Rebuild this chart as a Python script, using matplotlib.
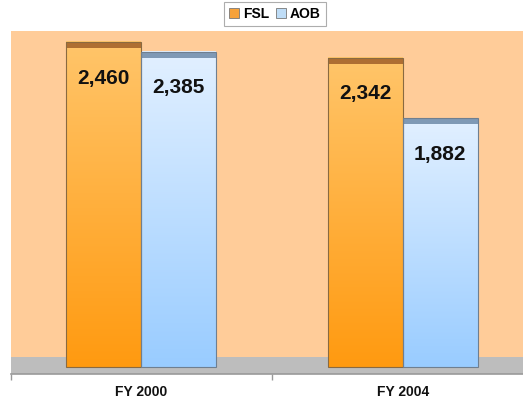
import matplotlib
matplotlib.use('Agg')
import matplotlib.pyplot as plt
import numpy as np
from matplotlib.colors import LinearSegmentedColormap
from matplotlib.patches import Rectangle, Patch

plt.rcParams['font.family'] = ['Liberation Sans', 'DejaVu Sans']

categories = ['FY 2000', 'FY 2004']
series_names = ['FSL', 'AOB']
fsl = [2460, 2342]
aob = [2385, 1882]

W, H = 523, 401
fig = plt.figure(figsize=(W / 100, H / 100), dpi=100)
ax = fig.add_axes([11 / W, (H - 374) / H, (W - 11) / W, (374 - 31) / H])
ax.set_xlim(-0.496, 1.458)
ax.set_ylim(-53, 2543)

ax.set_facecolor('#FFCC99')
ax.axhspan(-53, 76, color='#BDBDBD', zorder=0.5, lw=0)

width = 0.285
styles = {
    'FSL': dict(cmap=LinearSegmentedColormap.from_list('f', ['#FF9A10', '#FFC56A']),
                cap='#AE6E32', edge='#8a6a40', legend='#F7A23A'),
    'AOB': dict(cmap=LinearSegmentedColormap.from_list('a', ['#99CCFF', '#E2F0FF']),
                cap='#7F99B5', edge='#6f7f90', legend='#BFDDF7'),
}
grad = np.linspace(0, 1, 256).reshape(-1, 1)
cap_h = 45

for name, vals, off in [('FSL', fsl, -width / 2), ('AOB', aob, width / 2)]:
    st = styles[name]
    for i, v in enumerate(vals):
        x0 = i + off - width / 2
        x1 = i + off + width / 2
        ax.imshow(grad, cmap=st['cmap'], extent=(x0, x1, 0, v), origin='lower',
                  aspect='auto', zorder=2, interpolation='bilinear')
        ax.add_patch(Rectangle((x0, v - cap_h), width, cap_h, facecolor=st['cap'],
                               edgecolor='none', zorder=3))
        ax.add_patch(Rectangle((x0, 0), width, v, facecolor='none',
                               edgecolor=st['edge'], lw=0.8, zorder=4))
        ax.annotate(f'{v:,}', xy=(i + off, v), xytext=(0, -26), textcoords='offset points',
                    ha='center', va='center', fontsize=15, fontweight='bold',
                    color='#111111', zorder=5)

ax.set_xlim(-0.496, 1.458)
ax.set_ylim(-53, 2543)

for s in ['top', 'right', 'left']:
    ax.spines[s].set_visible(False)
ax.spines['bottom'].set_color('#999999')
ax.spines['bottom'].set_linewidth(1.2)
ax.set_yticks([])
ax.set_xticks(range(len(categories)))
ax.set_xticklabels(categories, fontsize=10, fontweight='bold', color='#111111')
ax.tick_params(axis='x', which='major', length=0, pad=8)
ax.set_xticks([-0.5 + 0.004, 0.5], minor=True)
ax.tick_params(axis='x', which='minor', length=4, color='#999999', width=1)

handles = [Patch(facecolor=styles[n]['legend'], edgecolor='#777777', lw=0.6, label=n)
           for n in series_names]
leg = fig.legend(handles=handles, loc='center', bbox_to_anchor=(275 / W, 1 - 14 / H),
                 ncol=2, frameon=True, fancybox=False, edgecolor='#999999',
                 prop=dict(size=10, weight='bold'), handlelength=0.7, handleheight=0.7,
                 handletextpad=0.3, columnspacing=0.5, borderpad=0.35, borderaxespad=0)
leg.get_frame().set_linewidth(0.8)

fig.savefig('out.png', dpi=100)
